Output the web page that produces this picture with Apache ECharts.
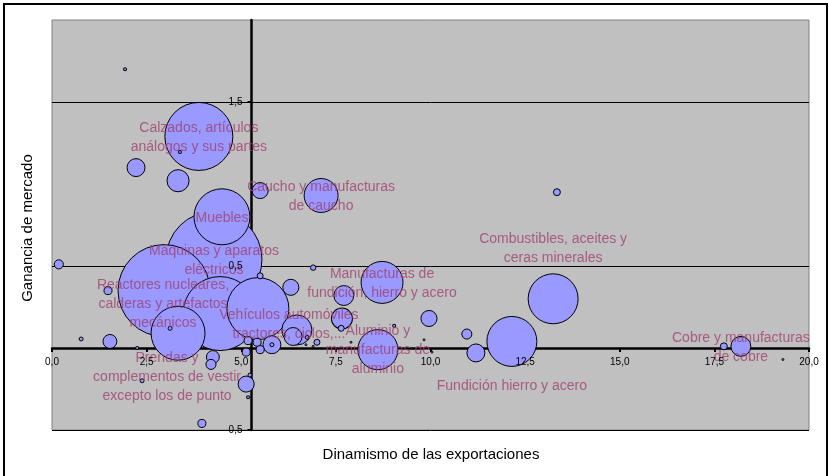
<!DOCTYPE html>
<html>
<head>
<meta charset="utf-8">
<script src="https://cdn.jsdelivr.net/npm/echarts@6/dist/echarts.min.js"></script>
<style>
  html, body { margin: 0; padding: 0; background: #fff; }
  #chart { width: 828px; height: 476px; }
</style>
</head>
<body>
<div id="chart"></div>
<script>
// '' = burbuja sin etiqueta
var nombres = [
  'Calzados, artículos\nanálogos y sus partes',
  'Caucho y manufacturas\nde caucho',
  'Muebles',
  'Máquinas y aparatos\neléctricos',
  'Reactores nucleares,\ncalderas y artefactos\nmecánicos',
  'Vehículos automóviles\ntractores, ciclos,...',
  'Manufacturas de\nfundición, hierro y acero',
  'Aluminio y\nmanufacturas de\naluminio',
  'Combustibles, aceites y\nceras minerales',
  'Fundición hierro y acero',
  'Cobre y manufacturas\nde cobre',
  'Prendas y\ncomplementos de vestir\nexcepto los de punto',
  '', '', '', '', '', '', '', '', '', '', '', '', '', '', '', '', '', '', '', '', '', '', '',
  '', '', '', '', '', '', '', '', '', '', '', '', '', '', '', '', '', '', '', '', '', '', '', ''
];
// dinamismo de las exportaciones (eje x)
var dinamismo = [
  3.88, 7.11, 4.49, 4.28, 2.96, 5.44, 8.72, 8.61, 13.24, 12.15, 18.20, 3.33,
  1.93, 3.38, 2.22, 3.33, 5.50, 4.44, 6.47, 6.37, 6.31, 6.90, 5.50, 7.71, 7.66, 7.64,
  9.96, 10.96, 11.20, 13.34, 17.75, 19.31, 0.18, 1.48, 0.77, 1.53, 2.25, 3.12, 4.25,
  4.20, 5.13, 5.23, 5.18, 3.96, 2.38, 5.13, 5.18, 5.42, 5.50, 5.81, 5.81, 7.00, 6.74,
  9.04, 9.83, 10.04, 7.90, 6.71, 6.90
];
// ganancia de mercado (eje y)
var ganancia = [
  1.29, 0.93, 0.80, 0.54, 0.35, 0.24, 0.40, -0.01, 0.30, 0.04, 0.01, 0.09,
  1.70, 1.195, 1.10, 1.02, 0.96, 0.21, 0.11, 0.07, 0.37, 0.49, 0.44, 0.32, 0.18, 0.12,
  0.18, 0.085, -0.03, 0.95, 0.01, -0.07, 0.51, 0.35, 0.055, 0.04, 0.0, 0.12, -0.055,
  -0.10, -0.22, -0.165, -0.30, -0.46, -0.20, -0.025, 0.045, 0.035, -0.01, 0.02, 0.02, 0.035, 0.065,
  0.135, 0.05, -0.025, 0.035, 0.02, 0.01
];
// tamaño de burbuja (valor relativo)
var tamano = [
  502, 125, 340, 1000, 918, 417, 191, 174, 271, 271, 43, 316,
  1.0, 1.0, 35, 53, 28, 594, 98, 35, 28, 3.2, 3.9, 43, 48, 3.9,
  28, 11, 35, 5.3, 5.3, 0.43, 9, 7, 1.7, 21, 1.0, 1.7, 18,
  11, 28, 1.7, 1.0, 7, 1.7, 7, 7, 7, 7, 35, 1.7, 3.9, 1.7,
  1.0, 0.43, 0.43, 0.43, 0.43, 0.43
];
var ticksY = [-0.5, 0.5, 1.5];

// desplazamiento de algunas etiquetas respecto a su burbuja (px)
var desplazamiento = {
  'Reactores nucleares,\ncalderas y artefactos\nmecánicos': [-1, 14],
  'Vehículos automóviles\ntractores, ciclos,...': [31, 16],
  'Combustibles, aceites y\nceras minerales': [0, -50],
  'Fundición hierro y acero': [0, 45],
  'Prendas y\ncomplementos de vestir\nexcepto los de punto': [-11, 44]
};

var X_MIN = 0, X_MAX = 20, Y_MIN = -0.5, Y_MAX = 2.0;
var CRUCE_X = 5.27;      // el eje vertical corta al horizontal aquí
var CRUCE_Y = 0;
var GRID = { left: 52, top: 20, right: 19, bottom: 46 };
var D_MAX = 96;
var FONT = '"Liberation Sans", Arial, sans-serif';

var vMax = Math.max.apply(null, tamano);
var puntos = [];
for (var i = 0; i < dinamismo.length; i++) {
  puntos.push([dinamismo[i], ganancia[i], tamano[i], nombres[i]]);
}
// las grandes primero, las pequeñas quedan encima
puntos.sort(function (a, b) { return b[2] - a[2]; });

var etiquetas = puntos.filter(function (p) { return p[3] !== ''; }).map(function (p) {
  return {
    name: p[3],
    value: [p[0], p[1]],
    label: { offset: desplazamiento[p[3]] || [0, 1] }
  };
});

function coma(v) { return v.toFixed(1).replace('.', ','); }

var chart = echarts.init(document.getElementById('chart'));
var anchoGrid = 828 - GRID.left - GRID.right;
var altoGrid = 476 - GRID.top - GRID.bottom;
var offX = -altoGrid * (CRUCE_Y - Y_MIN) / (Y_MAX - Y_MIN);
var offY = -anchoGrid * (CRUCE_X - X_MIN) / (X_MAX - X_MIN);

var lineaEje = { show: true, onZero: false, lineStyle: { color: '#000', width: 2.5 } };
var marca = { show: true, length: 4, lineStyle: { color: '#000', width: 2 } };
var textoEje = { color: '#000', fontSize: 10, fontFamily: FONT, margin: 9, formatter: coma, hideOverlap: false };

var option = {
  animation: false,
  backgroundColor: '#fff',
  grid: {
    left: GRID.left, top: GRID.top, right: GRID.right, bottom: GRID.bottom,
    show: true, backgroundColor: '#C0C0C0', borderColor: '#808080', borderWidth: 1
  },
  xAxis: [
    { // línea y marcas (debajo de las burbujas)
      type: 'value', min: X_MIN, max: X_MAX, interval: 2.5,
      position: 'bottom', offset: offX, z: 0,
      axisLine: lineaEje, axisTick: marca,
      axisLabel: { show: false }, splitLine: { show: false }
    },
    { // rótulos (encima)
      type: 'value', min: X_MIN, max: X_MAX, interval: 2.5,
      position: 'bottom', offset: offX, z: 6,
      axisLine: { show: false }, axisTick: { show: false },
      axisLabel: textoEje, splitLine: { show: false }
    }
  ],
  yAxis: [
    {
      type: 'value', min: Y_MIN, max: Y_MAX, interval: 1,
      position: 'left', offset: offY, z: 0,
      axisLine: lineaEje,
      axisTick: { show: true, length: 4, lineStyle: { color: '#000', width: 2 }, customValues: ticksY },
      axisLabel: { show: false },
      splitLine: { show: true, lineStyle: { color: '#000', width: 1 } }
    },
    {
      type: 'value', min: Y_MIN, max: Y_MAX, interval: 1,
      position: 'left', offset: offY, z: 6,
      axisLine: { show: false }, axisTick: { show: false },
      axisLabel: Object.assign({}, textoEje, { customValues: ticksY }),
      splitLine: { show: false }
    }
  ],
  series: [
    {
      type: 'scatter',
      data: puntos,
      symbolSize: function (d) { return D_MAX * Math.sqrt(d[2] / vMax); },
      itemStyle: { color: '#9999FF', borderColor: '#000', borderWidth: 1, opacity: 1 },
      label: { show: false },
      silent: true,
      z: 2
    },
    {
      type: 'scatter',
      data: etiquetas,
      symbolSize: 0,
      silent: true,
      z: 3,
      label: {
        show: true,
        position: 'inside',
        formatter: function (p) { return p.name; },
        color: '#A0406F',
        fontSize: 14,
        lineHeight: 19,
        fontFamily: FONT,
        align: 'center',
        verticalAlign: 'middle'
      }
    }
  ],
  graphic: [
    {
      type: 'rect', silent: true,
      shape: { x: 4, y: 4, width: 823, height: 480 },
      style: { fill: 'none', stroke: '#000', lineWidth: 2 }
    },
    {
      type: 'text', x: 28, y: 228, rotation: Math.PI / 2, silent: true,
      style: { text: 'Ganancia de mercado', x: 0, y: 0, textAlign: 'center', textVerticalAlign: 'middle',
               font: '15px ' + FONT, fill: '#000' }
    },
    {
      type: 'text', x: 431, y: 455, silent: true,
      style: { text: 'Dinamismo de las exportaciones', x: 0, y: 0, textAlign: 'center', textVerticalAlign: 'middle',
               font: '15px ' + FONT, fill: '#000' }
    }
  ]
};

chart.setOption(option);
window.addEventListener('resize', function () { chart.resize(); });
</script>
</body>
</html>
